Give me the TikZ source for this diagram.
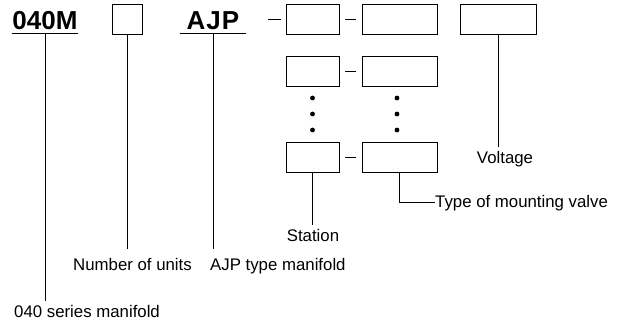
\documentclass[tikz,border=0pt]{standalone}
\usepackage{fontspec}
\setmainfont{Liberation Sans}
\usetikzlibrary{positioning,calc}

\begin{document}
\begin{tikzpicture}[x=1pt,y=-1pt,
  box/.style={draw,line width=0.9pt,minimum height=30pt,inner sep=0pt},
  lab/.style={font=\fontsize{16.8}{20}\selectfont,inner xsep=0pt,inner ysep=4pt},
  codetxt/.style={font=\fontsize{26}{30}\selectfont\bfseries,inner ysep=4pt},
  lead/.style={line width=0.9pt}]
\useasboundingbox (0,0) rectangle (619,324);
% model code: 040M [units] AJP - station - valve   voltage
\node[codetxt,anchor=base,inner xsep=0.5pt] (series) at (45,29) {040M};
\draw[line width=1.3pt] (series.south west) -- (series.south east);
\node[codetxt,anchor=base,inner xsep=6pt] (ajp) at (213,29) {\addfontfeature{LetterSpace=4}AJP};
\draw[line width=1.3pt] (ajp.south west) -- (ajp.south east);
\node[box,minimum width=30pt] (units) at (127,19) {};
% station / valve pairs, rows 1,2 and last
\foreach \r/\yy in {1/19,2/71.5,3/157} {
  \node[box,minimum width=53pt] (st\r) at (312.5,\yy) {};
  \node[box,minimum width=75pt] (vt\r) at (399.5,\yy) {};
  \draw[lead,shorten <=6pt,shorten >=6pt] (st\r) -- (vt\r);
}
\coordinate (d0) at (268,19);
\draw[lead,shorten >=5pt] (d0) -- (st1);
\node[box,minimum width=76pt] (volt) at (498,19) {};
% vertical dots between row 2 and last row
\foreach \yy in {98,114,130} {
  \fill (312.5,\yy) circle (2.4pt);
  \fill (397,\yy) circle (2.4pt);
}
% labels
\node[lab,anchor=base west] (lab040) at (14,317) {040 series manifold};
\node[lab,anchor=base west] (labunits) at (73,270) {Number of units};
\node[lab,anchor=base west] (labajp) at (210,270) {AJP type manifold};
\node[lab,anchor=base] (labstat) at (313,241) {Station};
\node[lab,anchor=base] (labvolt) at (505,163) {Voltage};
\node[lab,anchor=base west] (labtype) at (435,207) {Type of mounting valve};
% leaders
\draw[lead] (series.south) -- (series.south |- lab040.north);
\draw[lead,shorten >=5pt] (units.south) -- (units.south |- labunits.north);
\draw[lead,shorten >=5pt] (ajp.south) -- (ajp.south |- labajp.north);
\draw[lead] (st3.south) -- (st3.south |- labstat.north);
\draw[lead] (volt.south) -- (volt.south |- labvolt.north);
\draw[lead] (vt3.south) |- (labtype.west);
\end{tikzpicture}
\end{document}
